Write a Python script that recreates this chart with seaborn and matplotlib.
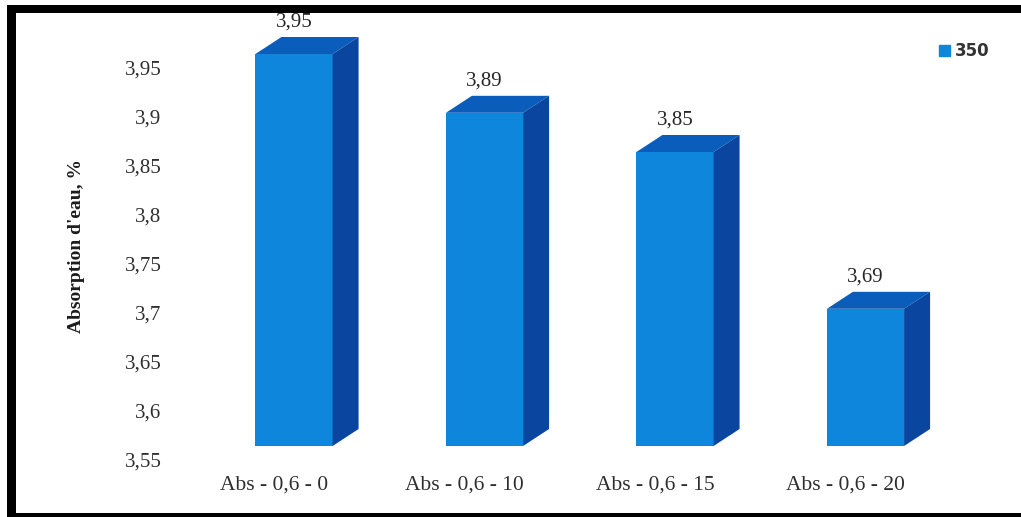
import matplotlib
matplotlib.use("Agg")
import matplotlib.pyplot as plt
from matplotlib.patches import Patch, Polygon, Rectangle
from matplotlib.transforms import ScaledTranslation
import seaborn as sns

categories = ["Abs - 0,6 - 0", "Abs - 0,6 - 10", "Abs - 0,6 - 15", "Abs - 0,6 - 20"]
values = [3.95, 3.89, 3.85, 3.69]
value_labels = ["3,95", "3,89", "3,85", "3,69"]
y_ticks = [3.55, 3.6, 3.65, 3.7, 3.75, 3.8, 3.85, 3.9, 3.95]
y_tick_labels = ["3,55", "3,6", "3,65", "3,7", "3,75", "3,8", "3,85", "3,9", "3,95"]
series_name = "350"
y_title = "Absorption d'eau, %"

FRONT = "#0d86dc"
TOP = "#0a5dbb"
SIDE = "#0a459f"
TEXT = "#2e2e2e"
W, H = 1021, 517
DPI = 100

sns.set_theme(style="white")
plt.rcParams["font.family"] = ["Liberation Serif", "DejaVu Serif"]

fig = plt.figure(figsize=(W / DPI, H / DPI), dpi=DPI, facecolor="white")
# axes box in pixels: the value scale runs from y=460 upward, bars are spaced 190.5 px apart
left, right, top, bottom = 167, 1000, 20, 460
ax = fig.add_axes([left / W, 1 - bottom / H, (right - left) / W, (bottom - top) / H])

sns.barplot(x=categories, y=values, color=FRONT, saturation=1, width=0.405, ax=ax, zorder=3)

ax.set_xlim(-(294 - left) / 190.5, (right - 294) / 190.5)
ax.set_ylim(3.55, 3.55 + (bottom - top) / 980)
ax.set_yticks(y_ticks, y_tick_labels)
ax.set_xlabel("")
ax.set_ylabel(y_title, fontsize=14, fontweight="bold", color="#1c1c1c", labelpad=0)
ax.yaxis.set_label_coords((85 - left) / (right - left), (bottom - 246) / (bottom - top))
ax.tick_params(axis="y", length=0, pad=4, labelsize=15, labelcolor=TEXT)
ax.tick_params(axis="x", length=0, pad=11, labelsize=15.5, labelcolor=TEXT)
sns.despine(ax=ax, left=True, bottom=True, top=True, right=True)
ax.patch.set_alpha(0)

# category captions sit to the left of the bars they name
caption_shift = ScaledTranslation(-20 / DPI, 0, fig.dpi_scale_trans)
for label in ax.get_xticklabels():
    label.set_transform(label.get_transform() + caption_shift)

# oblique projection: the floor of the bars sits 14 px above the zero of the wall scale
lift = ax.transData + ScaledTranslation(0, 14 / DPI, fig.dpi_scale_trans)
depth_x = 26 / 190.5
depth_y = 17 / 980

for bar, value, text in zip(ax.patches, values, value_labels):
    x0 = bar.get_x()
    x1 = x0 + bar.get_width()
    bar.set_y(3.55)
    bar.set_height(value - 3.55)
    bar.set_transform(lift)
    bar.set_clip_on(False)
    bar.set_linewidth(0)
    top_face = [(x0, value), (x1, value), (x1 + depth_x, value + depth_y), (x0 + depth_x, value + depth_y)]
    side_face = [(x1, 3.55), (x1 + depth_x, 3.55 + depth_y), (x1 + depth_x, value + depth_y), (x1, value)]
    ax.add_patch(Polygon(top_face, closed=True, fc=TOP, ec="none", transform=lift, clip_on=False, zorder=3))
    ax.add_patch(Polygon(side_face, closed=True, fc=SIDE, ec="none", transform=lift, clip_on=False, zorder=3))
    ax.annotate(text, xy=((x0 + x1) / 2, value), xycoords=lift,
                xytext=(0, 32 * 72 / DPI), textcoords="offset points",
                ha="center", va="center", fontsize=15, color="#262626",
                annotation_clip=False, zorder=4)

ax.legend(handles=[Patch(color=FRONT, label=series_name)],
          loc="center left", bbox_to_anchor=((931 - left) / (right - left), (bottom - 51) / (bottom - top)),
          frameon=False, handlelength=0.62, handleheight=0.62, handletextpad=0.3,
          borderpad=0, prop={"family": "DejaVu Sans", "weight": "bold", "size": 12},
          labelcolor="#333333")

# heavy black frame around the whole figure, drawn over everything
for x, y, w, h in [(7, 5, 1014, 8), (7, 5, 9, 512), (7, 513, 1014, 4)]:
    fig.add_artist(Rectangle((x / W, 1 - (y + h) / H), w / W, h / H,
                             transform=fig.transFigure, fc="black", ec="none", zorder=10))

fig.savefig("out.png", dpi=DPI)
